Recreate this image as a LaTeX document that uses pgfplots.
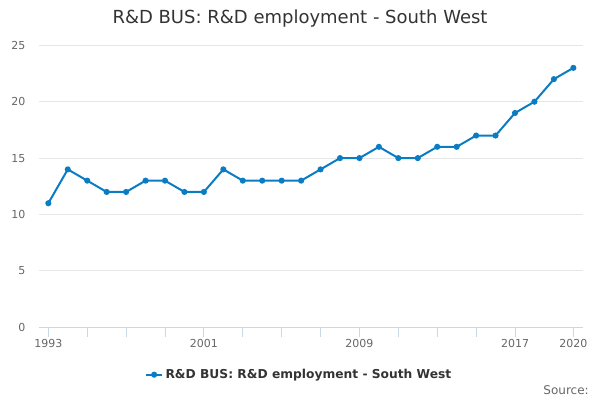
\documentclass[border=0pt]{standalone}
\usepackage{pgfplots}
\pgfplotsset{compat=1.18}
\usepackage{fontspec}
\setmainfont{DejaVu Sans}
\definecolor{linec}{HTML}{0A7CC4}
\definecolor{gridc}{HTML}{E6E6E6}
\definecolor{axisc}{HTML}{CCD6EB}
\definecolor{titlec}{HTML}{333333}
\definecolor{labc}{HTML}{666666}
\begin{document}
\begin{tikzpicture}
\useasboundingbox (0,0) rectangle (450pt,300pt);
\node[anchor=base, font=\fontsize{13.5pt}{16pt}\selectfont, text=titlec, inner sep=0pt] at (225pt,282pt) {R\&D BUS: R\&D employment - South West};
\node[anchor=base east, font=\fontsize{9pt}{11pt}\selectfont, text=labc, inner sep=0pt] at (441.75pt,4pt) {Source:};
\begin{axis}[
  scale only axis,
  width=408.2pt, height=211.5pt,
  at={(29.25pt,54.525pt)}, anchor=south west,
  xmin=1992.52, xmax=2020.51,
  ymin=0, ymax=25,
  ytick={0,5,10,15,20,25},
  xtick={1993,1995,1997,1999,2001,2003,2005,2007,2009,2011,2013,2015,2017,2020},
  xticklabels={1993,,,,2001,,,,2009,,,,2017,2020},
  xtick pos=left,
  tick align=outside,
  major tick length=7.1pt,
  xtick style={draw=axisc, line width=0.75pt},
  ytick style={draw=none},
  axis line style={draw=none},
  ymajorgrids,
  grid style={draw=gridc, line width=0.75pt},
  /pgf/number format/assume math mode=true,
  tick label style={font=\fontsize{8.25pt}{10pt}\selectfont, text=labc},
  yticklabel style={anchor=east, inner sep=0pt, xshift=-3pt},
  xticklabel style={anchor=north, inner sep=0pt, yshift=-2pt},
  legend style={at={(0.479,-0.168)}, anchor=center, draw=none, fill=none,
    font=\bfseries\fontsize{9.2pt}{11pt}\selectfont, text=titlec, inner sep=0pt},
  legend image code/.code={\draw[#1, mark repeat=2, mark phase=2] plot coordinates {(0pt,0pt) (5.8pt,0pt) (11.6pt,0pt)};},
  clip=false,
]
\draw[axisc, line width=0.75pt] (rel axis cs:0,0) -- (rel axis cs:1,0);
\addplot[color=linec, line width=1.5pt, mark=*, mark size=1.5pt, mark options={solid, fill=linec, draw=linec}]
coordinates {
(1993,11) (1994,14) (1995,13) (1996,12) (1997,12) (1998,13) (1999,13) (2000,12)
(2001,12) (2002,14) (2003,13) (2004,13) (2005,13) (2006,13) (2007,14) (2008,15)
(2009,15) (2010,16) (2011,15) (2012,15) (2013,16) (2014,16) (2015,17) (2016,17)
(2017,19) (2018,20) (2019,22) (2020,23)
};
\addlegendentry{R\&D BUS: R\&D employment - South West}
\end{axis}
\end{tikzpicture}
\end{document}
